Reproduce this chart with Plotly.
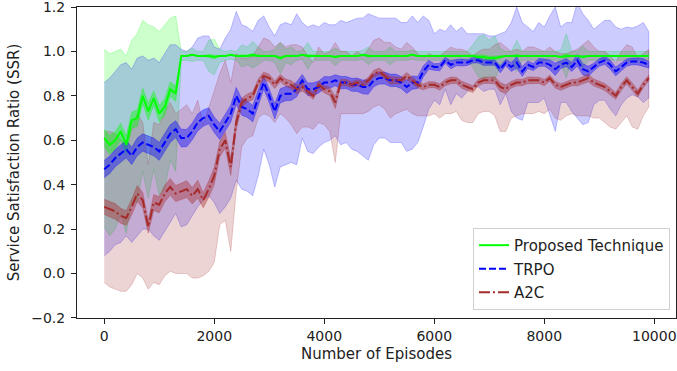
import numpy as np
import plotly.graph_objects as go

# ---------------- data ----------------
episodes = list(range(0, 10000, 100))

proposed_mean = [
    0.61, 0.58, 0.60, 0.64, 0.58, 0.69, 0.70, 0.80, 0.73, 0.79,
    0.72, 0.75, 0.83, 0.81, 0.98, 0.98, 0.985, 0.98, 0.98, 0.98,
    0.975, 0.98, 0.98, 0.985, 0.98, 0.98, 0.98, 0.985, 0.98, 0.98,
    0.98, 0.98, 0.97, 0.98, 0.98, 0.98, 0.985, 0.98, 0.98, 0.98,
    0.98, 0.98, 0.975, 0.98, 0.98, 0.98, 0.98, 0.985, 0.98, 0.98,
    0.98, 0.98, 0.98, 0.98, 0.98, 0.98, 0.985, 0.98, 0.98, 0.98,
    0.98, 0.98, 0.98, 0.98, 0.98, 0.98, 0.98, 0.98, 0.975, 0.975,
    0.97, 0.97, 0.975, 0.98, 0.98, 0.98, 0.98, 0.98, 0.98, 0.98,
    0.98, 0.98, 0.98, 0.975, 0.98, 0.98, 0.98, 0.975, 0.98, 0.98,
    0.98, 0.98, 0.98, 0.98, 0.98, 0.98, 0.98, 0.98, 0.98, 0.98,
]
proposed_std = [
    0.40, 0.41, 0.40, 0.37, 0.40, 0.36, 0.38, 0.34, 0.39, 0.32,
    0.37, 0.37, 0.32, 0.35, 0.02, 0.02, 0.03, 0.02, 0.02, 0.07,
    0.08, 0.03, 0.02, 0.02, 0.02, 0.05, 0.04, 0.06, 0.04, 0.02,
    0.02, 0.03, 0.07, 0.03, 0.04, 0.02, 0.02, 0.06, 0.02, 0.02,
    0.02, 0.02, 0.04, 0.02, 0.02, 0.02, 0.02, 0.02, 0.04, 0.02,
    0.02, 0.02, 0.04, 0.02, 0.02, 0.02, 0.02, 0.02, 0.02, 0.02,
    0.02, 0.02, 0.02, 0.02, 0.02, 0.02, 0.02, 0.05, 0.09, 0.10,
    0.08, 0.10, 0.04, 0.02, 0.02, 0.07, 0.02, 0.02, 0.02, 0.02,
    0.02, 0.02, 0.02, 0.03, 0.10, 0.02, 0.02, 0.05, 0.02, 0.02,
    0.02, 0.02, 0.02, 0.02, 0.02, 0.02, 0.02, 0.02, 0.02, 0.02,
]

trpo_mean = [
    0.47, 0.49, 0.52, 0.54, 0.56, 0.53, 0.57, 0.59, 0.58, 0.57,
    0.55, 0.59, 0.63, 0.65, 0.61, 0.61, 0.64, 0.68, 0.70, 0.71,
    0.67, 0.64, 0.68, 0.72, 0.80, 0.75, 0.74, 0.72, 0.79, 0.86,
    0.80, 0.73, 0.80, 0.81, 0.81, 0.83, 0.87, 0.83, 0.83, 0.84,
    0.86, 0.86, 0.87, 0.86, 0.86, 0.85, 0.85, 0.84, 0.84, 0.87,
    0.88, 0.88, 0.87, 0.87, 0.86, 0.84, 0.86, 0.86, 0.91, 0.94,
    0.93, 0.93, 0.96, 0.94, 0.95, 0.95, 0.95, 0.96, 0.96, 0.95,
    0.95, 0.95, 0.92, 0.95, 0.93, 0.95, 0.91, 0.94, 0.93, 0.95,
    0.95, 0.94, 0.92, 0.94, 0.95, 0.93, 0.96, 0.92, 0.91, 0.93,
    0.95, 0.96, 0.94, 0.91, 0.93, 0.95, 0.955, 0.955, 0.95, 0.94,
]
trpo_std = [
    0.39, 0.39, 0.39, 0.40, 0.39, 0.39, 0.40, 0.39, 0.38, 0.40,
    0.40, 0.40, 0.40, 0.38, 0.40, 0.39, 0.38, 0.38, 0.37, 0.36,
    0.35, 0.37, 0.38, 0.38, 0.38, 0.37, 0.37, 0.37, 0.35, 0.30,
    0.31, 0.34, 0.32, 0.32, 0.31, 0.34, 0.26, 0.28, 0.29, 0.27,
    0.27, 0.26, 0.25, 0.28, 0.27, 0.29, 0.30, 0.31, 0.33, 0.29,
    0.27, 0.27, 0.28, 0.28, 0.27, 0.29, 0.30, 0.27, 0.25, 0.20,
    0.15, 0.17, 0.13, 0.18, 0.14, 0.16, 0.13, 0.12, 0.12, 0.13,
    0.12, 0.12, 0.16, 0.14, 0.20, 0.25, 0.22, 0.17, 0.16, 0.18,
    0.16, 0.22, 0.28, 0.17, 0.18, 0.20, 0.26, 0.25, 0.23, 0.17,
    0.17, 0.18, 0.20, 0.20, 0.17, 0.16, 0.15, 0.16, 0.18, 0.15,
]

a2c_mean = [
    0.30, 0.29, 0.28, 0.26, 0.25, 0.30, 0.36, 0.33, 0.21, 0.32,
    0.31, 0.36, 0.39, 0.36, 0.37, 0.38, 0.35, 0.38, 0.33, 0.38,
    0.44, 0.56, 0.60, 0.48, 0.68, 0.77, 0.79, 0.80, 0.86, 0.89,
    0.88, 0.85, 0.88, 0.86, 0.85, 0.83, 0.84, 0.82, 0.80, 0.85,
    0.83, 0.82, 0.77, 0.86, 0.86, 0.85, 0.86, 0.85, 0.87, 0.90,
    0.91, 0.89, 0.87, 0.87, 0.87, 0.89, 0.87, 0.85, 0.84, 0.85,
    0.85, 0.84, 0.86, 0.87, 0.87, 0.85, 0.84, 0.83, 0.86, 0.87,
    0.87, 0.87, 0.84, 0.83, 0.85, 0.86, 0.86, 0.87, 0.87, 0.87,
    0.86, 0.88, 0.85, 0.84, 0.85, 0.86, 0.86, 0.87, 0.88, 0.86,
    0.85, 0.84, 0.82, 0.80, 0.84, 0.87, 0.84, 0.81, 0.85, 0.88,
]
a2c_std = [
    0.34, 0.35, 0.35, 0.34, 0.33, 0.35, 0.36, 0.35, 0.28, 0.36,
    0.36, 0.37, 0.38, 0.36, 0.37, 0.38, 0.37, 0.40, 0.34, 0.37,
    0.39, 0.34, 0.36, 0.38, 0.31, 0.20, 0.18, 0.18, 0.16, 0.17,
    0.17, 0.17, 0.16, 0.16, 0.18, 0.20, 0.18, 0.16, 0.15, 0.17,
    0.16, 0.18, 0.27, 0.14, 0.14, 0.13, 0.14, 0.13, 0.14, 0.15,
    0.15, 0.15, 0.17, 0.15, 0.14, 0.15, 0.15, 0.14, 0.13, 0.14,
    0.13, 0.14, 0.14, 0.15, 0.14, 0.16, 0.16, 0.15, 0.14, 0.14,
    0.14, 0.16, 0.20, 0.19, 0.15, 0.15, 0.14, 0.15, 0.15, 0.14,
    0.14, 0.14, 0.15, 0.15, 0.14, 0.14, 0.15, 0.16, 0.17, 0.16,
    0.15, 0.16, 0.16, 0.15, 0.16, 0.16, 0.18, 0.16, 0.14, 0.13,
]

# narrow inner band = standard error (std / sqrt(runs))
n_runs = 100

y_tick_vals = [-0.2, 0.0, 0.2, 0.4, 0.6, 0.8, 1.0, 1.2]
y_tick_text = ["\u22120.2", "0.0", "0.2", "0.4", "0.6", "0.8", "1.0", "1.2"]
x_tick_vals = [0, 2000, 4000, 6000, 8000, 10000]
x_tick_text = ["0", "2000", "4000", "6000", "8000", "10000"]

series = [
    ("Proposed Technique", proposed_mean, proposed_std, (0, 255, 0), "solid"),
    ("TRPO", trpo_mean, trpo_std, (0, 0, 255), "7px,3px"),
    ("A2C", a2c_mean, a2c_std, (165, 42, 42), "11px,3px,2px,3px"),
]

# ---------------- figure ----------------
fig = go.Figure()
x = np.array(episodes)
xp = np.concatenate([x, x[::-1]])

for name, m, s, rgb, dash in series:
    m = np.array(m)
    s = np.array(s)
    r, g, b = rgb
    fig.add_trace(go.Scatter(
        x=xp, y=np.concatenate([m + s, (m - s)[::-1]]),
        fill="toself", fillcolor=f"rgba({r},{g},{b},0.2)",
        line=dict(color=f"rgba({r},{g},{b},0.22)", width=1),
        mode="lines", hoverinfo="skip", showlegend=False))

for name, m, s, rgb, dash in series:
    m = np.array(m)
    se = np.array(s) / np.sqrt(n_runs)
    r, g, b = rgb
    fig.add_trace(go.Scatter(
        x=xp, y=np.concatenate([m + se, (m - se)[::-1]]),
        fill="toself", fillcolor=f"rgba({r},{g},{b},0.4)",
        line=dict(color=f"rgba({r},{g},{b},0.3)", width=1),
        mode="lines", hoverinfo="skip", showlegend=False))

for i, (name, m, s, rgb, dash) in enumerate(series):
    r, g, b = rgb
    fig.add_trace(go.Scatter(
        x=episodes, y=m, mode="lines", name=name, legendgroup=f"g{i}",
        line=dict(color=f"rgb({r},{g},{b})", width=2, dash=dash)))

axis_common = dict(
    showgrid=False, zeroline=False, showline=True, mirror=True,
    linecolor="#222", linewidth=1, ticks="outside", ticklen=5,
    tickcolor="#222", tickwidth=1, automargin=False,
    ticklabeloverflow="allow",
    tickfont=dict(family="DejaVu Sans", size=14, color="#222"),
)

fig.update_layout(
    width=677, height=371,
    margin=dict(l=77, r=1, t=7, b=53),
    paper_bgcolor="white", plot_bgcolor="white",
    font=dict(family="DejaVu Sans", size=14, color="#222"),
    xaxis=dict(range=[-495, 10395], tickvals=x_tick_vals, ticktext=x_tick_text,
               title=dict(text="Number of Episodes", standoff=5,
                          font=dict(family="DejaVu Sans", size=15, color="#222")),
               **axis_common),
    yaxis=dict(range=[-0.2001, 1.2001], tickvals=y_tick_vals, ticktext=y_tick_text,
               ticklabelstandoff=3,
               title=dict(text="Service Satisfaction Ratio (SSR)", standoff=7,
                          font=dict(family="DejaVu Sans", size=15, color="#222")),
               **axis_common),
    legend=dict(x=0.99, xanchor="right", y=0.026, yanchor="bottom",
                bgcolor="rgba(255,255,255,0.8)", bordercolor="#d0d0d0",
                borderwidth=1, tracegroupgap=1,
                font=dict(family="DejaVu Sans", size=15, color="#222")),
    showlegend=True,
)

fig.write_html("out.html")
